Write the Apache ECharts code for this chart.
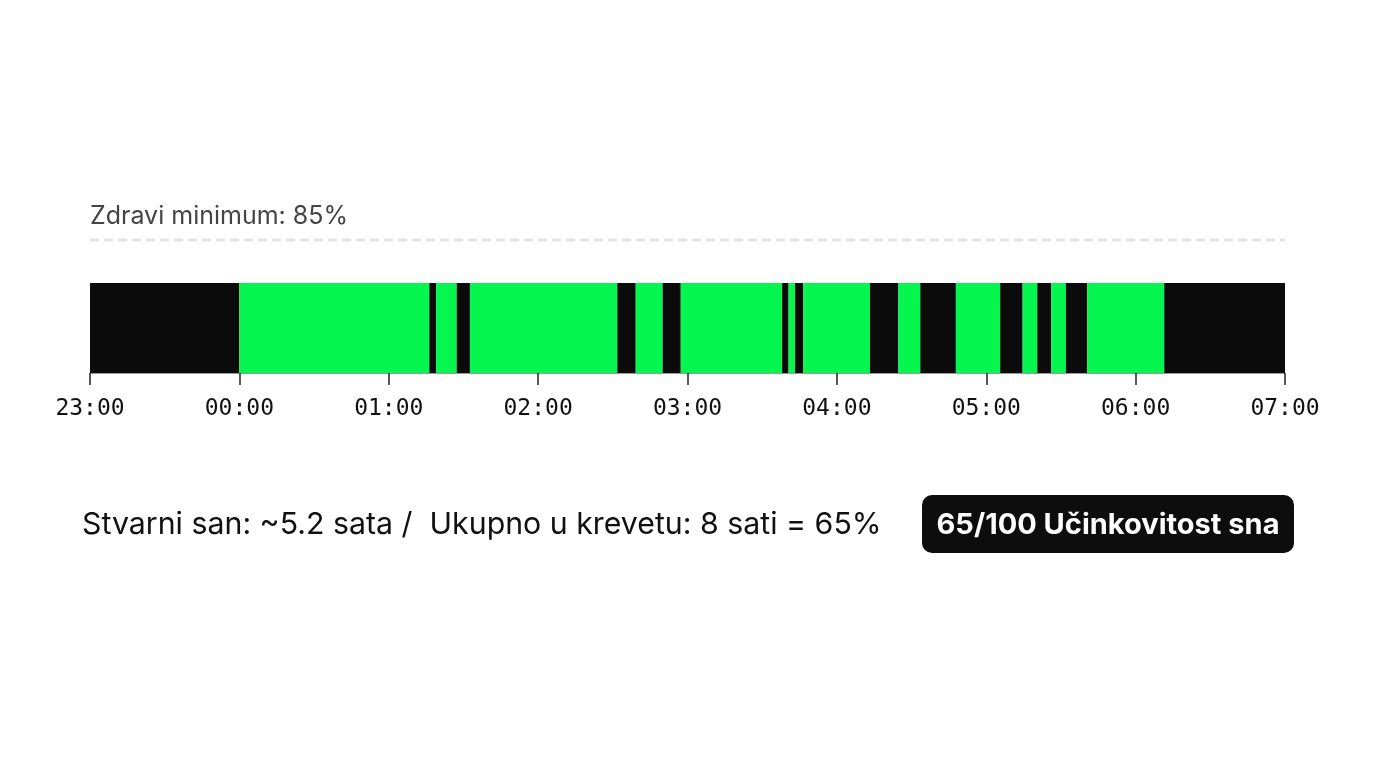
<!DOCTYPE html>
<html><head><meta charset="utf-8">
<script src="https://cdn.jsdelivr.net/npm/echarts@6/dist/echarts.min.js"></script>
<style>html,body{margin:0;padding:0;background:#fff}#c{width:1376px;height:768px}</style>
</head><body><div id="c"></div>
<script>
// minutes after 23:00
const tickLabels = ['23:00','00:00','01:00','02:00','03:00','04:00','05:00','06:00','07:00'];
const segStart = [0, 60, 136.3, 139, 147.3, 152.6, 211.8, 219.2, 230, 237.3, 278, 280.6, 283.2, 286.5, 313.3, 324.7, 333.5, 347.8, 365.6, 374.6, 380.5, 386.1, 392, 400.5, 431.5];
const segEnd   = [60, 136.3, 139, 147.3, 152.6, 211.8, 219.2, 230, 237.3, 278, 280.6, 283.2, 286.5, 313.3, 324.7, 333.5, 347.8, 365.6, 374.6, 380.5, 386.1, 392, 400.5, 431.5, 480];
const segState = ['budan','san','budan','san','budan','san','budan','san','budan','san','budan','san','budan','san','budan','san','budan','san','budan','san','budan','san','budan','san','budan'];
const titleText = 'Zdravi minimum: 85%';
const summaryText = 'Stvarni san: ~5.2 sata /  Ukupno u krevetu: 8 sati = 65%';
const badgeText = '65/100 Učinkovitost sna';

const colors = { san: '#05f74f', budan: '#0b0b0b' };
const data = segStart.map((s, i) => [s, segEnd[i], segState[i]]);

const chart = echarts.init(document.getElementById('c'), null, { renderer: 'canvas' });
chart.setOption({
  backgroundColor: '#ffffff',
  animation: false,
  grid: { left: 90, right: 91, top: 283, height: 90 },
  xAxis: {
    type: 'value', min: 0, max: 480, interval: 60,
    axisLine: { show: true, lineStyle: { color: '#9a9a9a', width: 1 } },
    axisTick: { show: true, length: 12, lineStyle: { color: '#222', width: 1.5 } },
    splitLine: { show: false },
    axisLabel: {
      formatter: v => tickLabels[Math.round(v / 60)],
      fontFamily: 'DejaVu Sans Mono', fontSize: 23, color: '#111', margin: 25
    }
  },
  yAxis: { type: 'category', data: [''], show: false },
  series: [{
    type: 'custom',
    data: data,
    encode: { x: [0, 1] },
    renderItem: function (params, api) {
      const a = api.coord([api.value(0), 0]);
      const b = api.coord([api.value(1), 0]);
      const h = api.size([0, 1])[1];
      const st = data[params.dataIndex][2];
      return {
        type: 'rect',
        shape: { x: a[0], y: a[1] - h / 2, width: b[0] - a[0], height: h },
        style: { fill: colors[st] }
      };
    }
  }],
  graphic: [
    { type: 'text', x: 90, y: 216, style: { text: titleText, font: '25px Inter', fill: '#444', verticalAlign: 'middle' } },
    { type: 'line', shape: { x1: 90, y1: 240, x2: 1285, y2: 240 }, style: { stroke: '#e4e4e4', lineWidth: 3, lineDash: [9, 5] } },
    { type: 'text', x: 82, y: 525, style: { text: summaryText, font: '30.3px Inter', fill: '#111', verticalAlign: 'middle' } },
    { type: 'rect', shape: { x: 922, y: 495, width: 372, height: 58, r: 10 }, style: { fill: '#0d0d0d' } },
    { type: 'text', x: 1108, y: 525, style: { text: badgeText, font: 'bold 29px Inter', fill: '#fff', align: 'center', verticalAlign: 'middle' } }
  ]
});
</script>
</body></html>
